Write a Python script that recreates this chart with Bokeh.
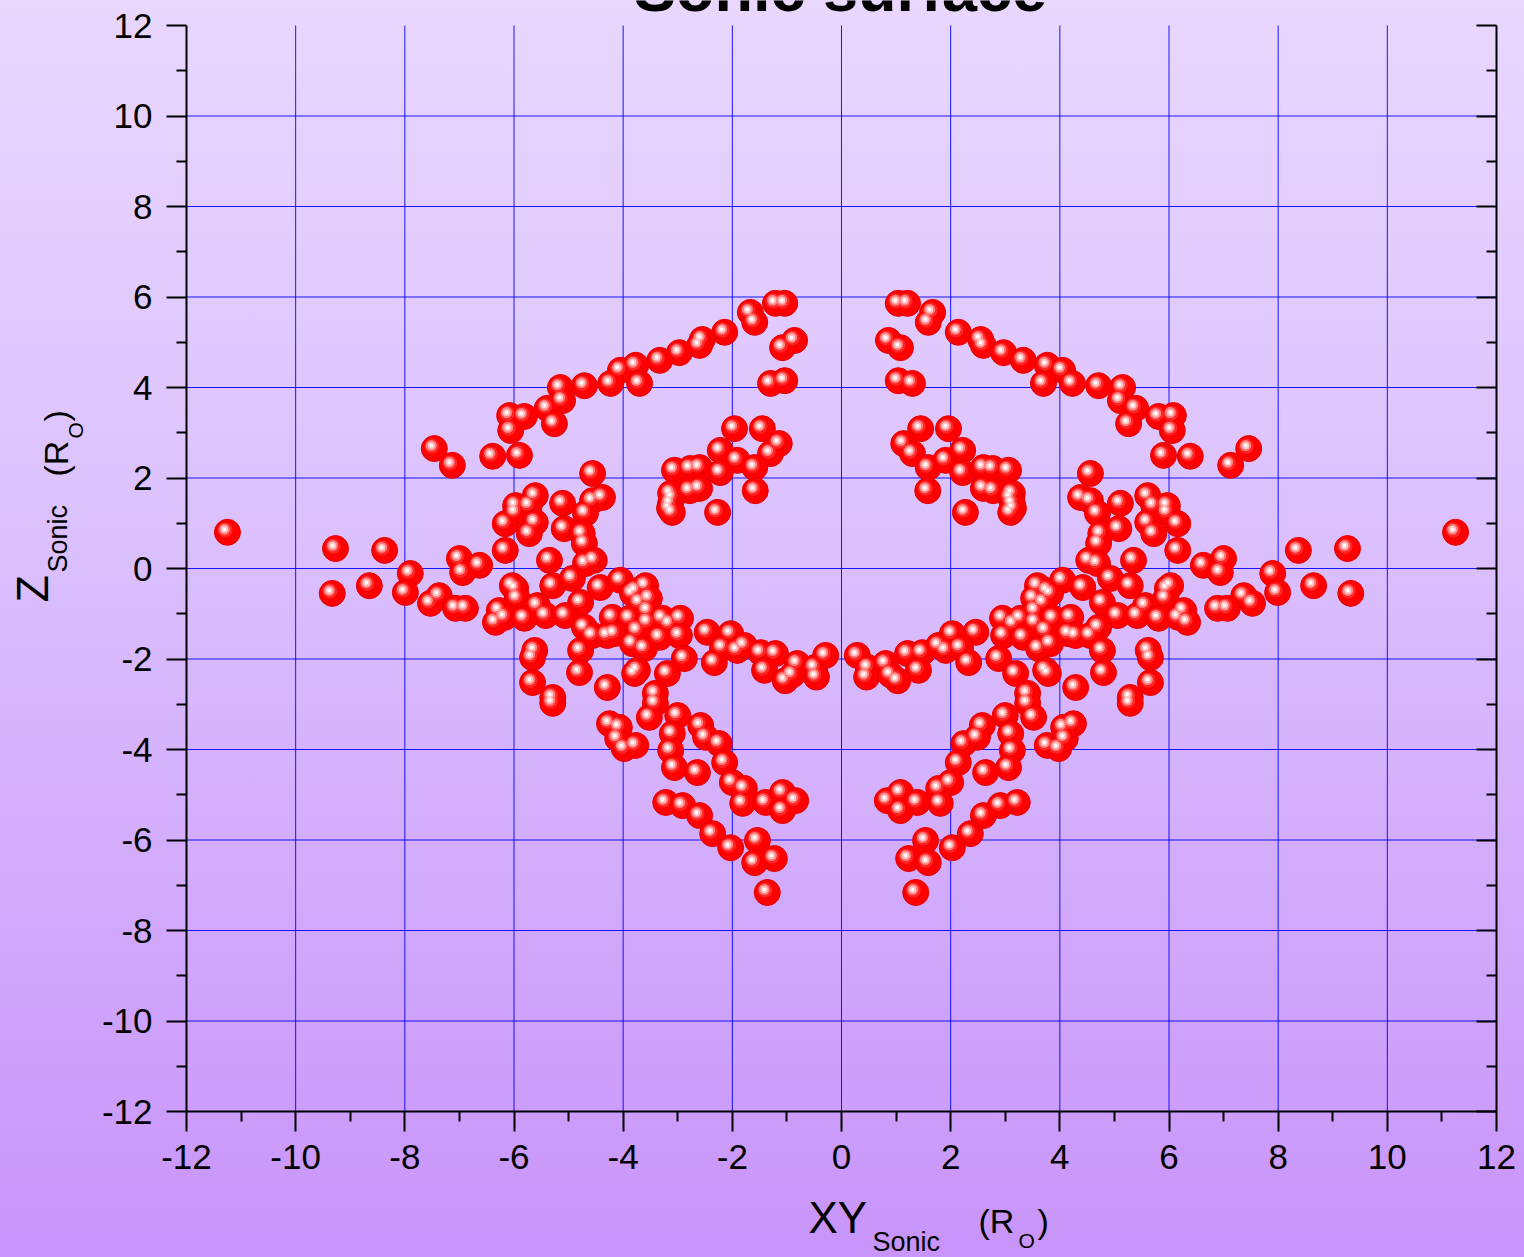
import numpy as np
from bokeh.plotting import figure
from bokeh.models import Label, LinearAxis, FixedTicker, Range1d
from bokeh.embed import file_html
from bokeh.resources import INLINE

# ---- data: right half of the (mirror-symmetric) sonic surface ----
xs_right = [
    1.04, 1.21, 1.67, 1.59, 2.14, 2.55, 2.60, 2.97, 3.33, 3.77, 4.05, 3.70, 4.23, 4.71, 5.15, 5.11, 5.39, 5.26,
    5.81, 6.08, 6.06, 5.90, 6.39, 7.13, 7.46,
    0.86, 1.08, 1.04, 1.30,
    1.45, 1.96, 1.14, 1.30, 1.59, 1.91, 2.22, 2.22, 2.60, 2.77, 3.06, 1.58, 2.60, 2.78, 3.13, 2.27, 3.10, 3.13,
    3.15, 3.10,
    4.56, 4.38, 4.56, 5.11, 4.69, 5.61, 5.72, 5.97, 5.97, 6.16, 5.61, 5.72, 5.08, 4.75, 4.71, 6.16, 5.35, 4.53,
    4.69, 6.63, 7.00, 6.94, 7.90, 8.37, 9.27, 11.25, 8.65, 9.33, 7.99, 7.37, 7.53, 6.89, 7.07, 5.97, 5.94, 6.03,
    6.27, 6.17, 6.34, 5.57, 5.42, 5.81, 5.29, 4.93, 4.42, 4.78, 5.06, 4.71, 4.20, 5.62, 5.66, 4.78, 4.80, 5.66,
    5.29, 5.29, 4.56,
    3.59, 3.77, 4.05, 3.52, 3.70, 3.55, 3.88, 3.55, 2.95, 3.15, 3.74, 4.16, 2.97, 3.33, 3.61, 3.83, 2.88, 3.19,
    3.74, 4.29, 3.28, 2.46, 2.03, 2.18, 1.91, 2.33, 1.48, 1.78, 1.21, 1.41, 0.81, 0.49, 0.29, 1.03, 0.46, 0.90,
    3.79, 3.83,
    4.29, 3.41, 3.41, 3.00, 3.52, 2.58, 2.49, 2.24, 3.10, 3.13, 3.06, 2.64, 2.14, 2.00, 1.78, 1.81, 1.39, 1.08,
    0.84, 1.08, 3.22, 2.91, 2.60, 2.36, 2.03, 1.54, 1.23, 1.59, 1.36, 3.77, 3.98, 4.10, 4.25, 4.07,
]
zs_right = [
    5.86, 5.86, 5.66, 5.44, 5.22, 5.06, 4.93, 4.77, 4.60, 4.49, 4.38, 4.09, 4.09, 4.04, 4.00, 3.71, 3.54, 3.20,
    3.36, 3.38, 3.05, 2.50, 2.48, 2.28, 2.65,
    5.04, 4.88, 4.15, 4.09,
    3.09, 3.09, 2.76, 2.54, 2.23, 2.39, 2.61, 2.12, 2.23, 2.21, 2.17, 1.72, 1.77, 1.72, 1.66, 1.24, 1.57, 1.44,
    1.33, 1.24,
    2.10, 1.57, 1.50, 1.44, 1.22, 1.61, 1.39, 1.39, 1.24, 0.99, 1.02, 0.77, 0.88, 0.77, 0.55, 0.40, 0.18, 0.18,
    0.11, 0.07, 0.22, -0.09, -0.11, 0.40, 0.44, 0.80, -0.38, -0.55, -0.53, -0.60, -0.77, -0.88, -0.88, -0.44,
    -0.66, -0.38, -0.93, -1.08, -1.19, -0.82, -1.04, -1.10, -0.38, -0.22, -0.42, -0.75, -1.04, -1.30, -1.08,
    -1.81, -1.97, -1.81, -2.30, -2.52, -2.85, -2.98, -1.48,
    -0.38, -0.49, -0.26, -0.66, -0.75, -0.93, -1.10, -1.19, -1.10, -1.22, -1.37, -1.44, -1.48, -1.52, -1.77,
    -1.66, -1.99, -2.32, -2.25, -1.48, -1.10, -1.41, -1.44, -1.75, -1.81, -2.08, -1.86, -1.70, -1.88, -2.25,
    -2.10, -2.19, -1.92, -2.48, -2.40, -2.35, -2.32, -0.55,
    -2.63, -2.76, -2.98, -3.25, -3.29, -3.47, -3.73, -3.87, -3.65, -4.02, -4.40, -4.51, -4.29, -4.73, -4.86,
    -5.19, -5.17, -4.95, -5.13, -5.35, -5.17, -5.24, -5.46, -5.86, -6.17, -6.01, -6.41, -6.50, -7.16, -3.91,
    -3.98, -3.76, -3.43, -3.51,
]
# left half is the mirror image of the right half in the picture
xs_left = [-v for v in xs_right]
zs_left = list(zs_right)

x_all = np.array(xs_right + xs_left)
z_all = np.array(zs_right + zs_left)

AX_MIN, AX_MAX = -12, 12
major_ticks = list(range(-12, 13, 2))
minor_ticks = list(range(-11, 12, 2))
grid_ticks = list(range(-10, 11, 2))
tick_text = {t: str(t) for t in major_ticks}

# ---- layout: page pixel geometry of the axes box ----
W, H = 1524, 1257
FL, FR, FT, FB = 186, 1496, 25, 1111
sx = (FR - FL) / (AX_MAX - AX_MIN)
sy = (FB - FT) / (AX_MAX - AX_MIN)


def px_x(px):
    return AX_MIN + (px - FL) / sx


def px_y(py):
    return AX_MIN + (FB - py) / sy


# the drawing frame covers the whole canvas; the axes sit at fixed locations inside it
p = figure(width=W, height=H, x_range=Range1d(px_x(0), px_x(W)), y_range=Range1d(px_y(H), px_y(0)),
           output_backend="svg", toolbar_location=None,
           min_border_left=0, min_border_right=0, min_border_top=0, min_border_bottom=0,
           background_fill_color=None, border_fill_color=None, outline_line_color=None)
p.title = None
p.styles = {"background": "linear-gradient(to bottom, #e9d7fe 0%, #dcc2fd 40%, #c894fa 100%)"}
p.grid.visible = False

FONT = "Liberation Sans"

for ax, stand in ((p.yaxis[0], 14), (p.xaxis[0], 13)):
    ax.fixed_location = AX_MIN
    ax.bounds = (AX_MIN, AX_MAX)
    ax.ticker = FixedTicker(ticks=major_ticks, minor_ticks=minor_ticks)
    ax.major_label_overrides = tick_text
    ax.major_tick_out = 20
    ax.major_tick_in = 0
    ax.minor_tick_out = 10
    ax.minor_tick_in = 0
    ax.axis_line_width = 2
    ax.axis_line_color = "black"
    ax.major_tick_line_width = 2
    ax.minor_tick_line_width = 2
    ax.major_tick_line_color = "black"
    ax.minor_tick_line_color = "black"
    ax.major_label_text_font = FONT
    ax.major_label_text_font_size = "35px"
    ax.major_label_text_color = "black"
    ax.major_label_standoff = stand

right = LinearAxis(ticker=FixedTicker(ticks=major_ticks, minor_ticks=minor_ticks),
                   fixed_location=AX_MAX, bounds=(AX_MIN, AX_MAX),
                   major_tick_in=20, major_tick_out=0, minor_tick_in=10, minor_tick_out=0,
                   axis_line_width=2, major_tick_line_width=2, minor_tick_line_width=2,
                   major_label_text_font_size="1px", major_label_standoff=0,
                   major_label_overrides={t: "" for t in major_ticks})
p.add_layout(right, "right")

# grid lines (blue), limited to the axes box
p.multi_line(xs=[[t, t] for t in grid_ticks], ys=[[AX_MIN, AX_MAX] for t in grid_ticks],
             line_color="#0000ff", line_width=1, line_alpha=0.9)
p.multi_line(xs=[[AX_MIN, AX_MAX] for t in grid_ticks], ys=[[t, t] for t in grid_ticks],
             line_color="#0000ff", line_width=1, line_alpha=0.9)

# ---- shaded balls ----
dx = -3.0 / sx
dy = 3.0 / sy
p.scatter(x_all, z_all, size=26, fill_color="#ff0000", line_color="#e40000", line_width=1)
p.scatter(x_all + dx * 0.8, z_all + dy * 0.8, size=15, fill_color="#ff3030", line_color=None, fill_alpha=0.8)
p.scatter(x_all + dx, z_all + dy, size=11, fill_color="#ff8080", line_color=None)
p.scatter(x_all + dx, z_all + dy, size=7, fill_color="#ffc8c8", line_color=None)
p.scatter(x_all + dx, z_all + dy, size=3.5, fill_color="#ffffff", line_color=None)

# ---- texts (anchored at the vertical middle of each text line) ----
MID = 0.3465


def lab(text, px, py, size, bold=False, align="left"):
    p.add_layout(Label(x=px_x(px), y=px_y(py - MID * size), text=text, text_font=FONT,
                       text_font_size=f"{size}px", text_color="black", text_align=align,
                       text_baseline="middle", text_font_style="bold" if bold else "normal"))


def vlab(text, px, py, size):
    # rotated 90 degrees, reading upwards; px is the baseline column, py the start row
    p.add_layout(Label(x=px_x(px - MID * size), y=px_y(py), text=text, text_font=FONT,
                       text_font_size=f"{size}px", text_color="black", angle=np.pi / 2,
                       text_align="left", text_baseline="middle"))


lab("Sonic surface", 840, 10, 63, bold=True, align="center")

# x axis label: XY_Sonic (R_O)
lab("XY", 808, 1232, 44)
lab("Sonic", 872, 1251, 27)
lab("(R", 978, 1232, 34)
lab("O", 1018, 1247, 21)
lab(")", 1037, 1232, 34)

# y axis label: Z_Sonic (R_O)
vlab("Z", 48, 602, 45)
vlab("Sonic", 67, 572, 27)
vlab("(R", 67, 476, 34)
vlab("O", 82, 438, 21)
vlab(")", 67, 421, 34)

open("out.html", "w").write(file_html(p, INLINE))
